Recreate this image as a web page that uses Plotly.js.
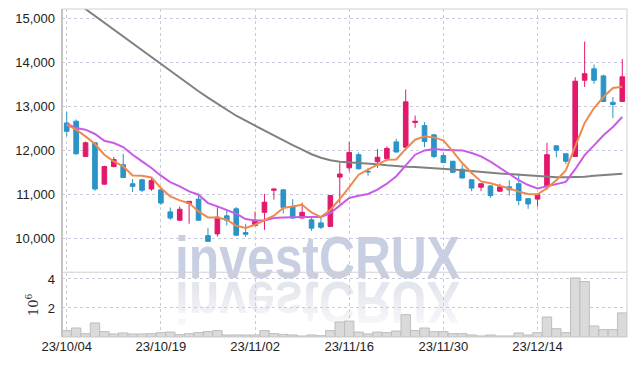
<!DOCTYPE html>
<html><head><meta charset="utf-8">
<script src="https://cdn.plot.ly/plotly-3.0.1.min.js"></script>
<style>
html,body{margin:0;padding:0;background:#fff;}
#wrap{position:relative;width:635px;height:366px;overflow:hidden;}
#chart{position:absolute;left:0;top:0;width:635px;height:366px;z-index:1;}
.wm{position:absolute;left:175px;font-family:"Liberation Sans",Arial,sans-serif;font-weight:bold;font-size:60px;line-height:60px;white-space:nowrap;z-index:0;}
#wm1{top:228px;color:#c9cfe3;transform-origin:0 0;transform:scaleX(0.83);}
#wm2{top:272px;color:#e4e6ee;transform-origin:0 30px;transform:scaleX(0.83) scaleY(-1);
  -webkit-mask-image:linear-gradient(to top, rgba(0,0,0,1) 25%, rgba(0,0,0,0.15) 100%);
  mask-image:linear-gradient(to top, rgba(0,0,0,1) 25%, rgba(0,0,0,0.15) 100%);}
</style></head>
<body><div id="wrap"><div class="wm" id="wm1">investCRUX</div><div class="wm" id="wm2">investCRUX</div><div id="chart"></div></div>
<script>
const dates = ["23/10/04","23/10/05","23/10/06","23/10/10","23/10/11","23/10/12","23/10/13","23/10/16","23/10/17","23/10/18",
"23/10/19","23/10/20","23/10/23","23/10/24","23/10/25","23/10/26","23/10/27","23/10/30","23/10/31","23/11/01",
"23/11/02","23/11/03","23/11/06","23/11/07","23/11/08","23/11/09","23/11/10","23/11/13","23/11/14","23/11/15",
"23/11/16","23/11/17","23/11/20","23/11/21","23/11/22","23/11/23","23/11/24","23/11/27","23/11/28","23/11/29",
"23/11/30","23/12/01","23/12/04","23/12/05","23/12/06","23/12/07","23/12/08","23/12/11","23/12/12","23/12/13",
"23/12/14","23/12/15","23/12/18","23/12/19","23/12/20","23/12/21","23/12/22","23/12/26","23/12/27","23/12/28"];
const tickDates = ["23/10/04","23/10/19","23/11/02","23/11/16","23/11/30","23/12/14"];
const openP  = [12630,12670,11870,12180,11240,11640,11680,11250,11340,11130,11110,10610,10420,10800,10900,10070,10110,10520,10680,10140,10300,10600,11100,11110,10730,10470,10430,10360,10280,11400,11610,11910,11530,11750,11820,12200,12080,12640,12570,12360,11890,11760,11580,11340,11170,11200,11080,11180,11250,10910,10900,11180,12110,11930,11870,13600,13860,13700,13100,13120];
const highP  = [12880,12710,12210,12190,11660,11860,11930,11360,11360,11390,11120,10710,10730,10850,11020,10240,10720,10660,10720,10340,10620,11020,11140,11130,10900,10820,10510,10490,10990,11720,12200,11960,11610,12040,12100,12270,13390,12800,12650,12380,11960,11770,11680,11350,11260,11210,11250,11330,11480,10920,11010,12180,12120,11940,13670,14480,13960,13730,13220,14080];
const lowP   = [12330,11910,11860,11090,11230,11620,11380,11060,11060,11090,10770,10430,10410,10340,10400,9930,10050,10300,10060,10040,10280,10200,10890,10580,10450,10460,10180,10220,10270,10800,11530,11570,11430,11610,11760,11960,12060,12520,12080,11830,11720,11490,11370,11080,11080,10930,11070,10980,10760,10680,10730,11110,11850,11700,11860,13450,13520,13110,12740,13110];
const closeP = [12440,11930,12180,11130,11640,11800,11390,11190,11100,11320,10810,10470,10670,10850,10420,9940,10490,10420,10080,10100,10420,10830,11130,10710,10470,10600,10240,10260,10980,11470,11960,11590,11520,11850,12050,11970,13110,12670,12210,11870,11730,11510,11380,11150,11250,10980,11180,11110,10870,10790,11000,11910,12010,11760,13580,13750,13600,13120,13050,13680];
const ma5  = [12590,12477,12325,12152,11909,11757,11643,11439,11432,11393,11152,10962,10870,10810,10620,10484,10484,10432,10295,10243,10318,10416,10523,10698,10734,10773,10598,10493,10659,10902,11175,11455,11568,11682,11795,11800,12040,12250,12325,12303,12235,11985,11720,11493,11303,11260,11205,11140,11070,11016,11008,11150,11330,11550,12100,12630,12970,13220,13425,13455];
const ma20 = [12610,12516,12477,12380,12227,12175,12084,11909,11757,11606,11432,11288,11189,11075,11000,10810,10734,10659,10568,10448,10416,10416,10470,10480,10493,10493,10493,10493,10584,10750,10925,10977,11016,11114,11250,11420,11659,11909,12007,12039,12023,12023,12007,11947,11870,11750,11600,11470,11330,11220,11140,11190,11240,11290,11580,11900,12120,12350,12540,12766];
const ma60 = [15530,15373,15216,15059,14902,14748,14589,14432,14275,14120,13964,13809,13652,13500,13352,13205,13068,12920,12795,12682,12568,12455,12341,12227,12125,12023,11920,11841,11784,11750,11739,11727,11716,11693,11670,11648,11636,11630,11620,11610,11591,11573,11557,11534,11516,11500,11482,11470,11455,11432,11414,11402,11398,11395,11398,11409,11432,11443,11455,11477];
const volume = [0.44,0.62,0.23,0.97,0.37,0.21,0.28,0.21,0.21,0.23,0.30,0.34,0.16,0.23,0.30,0.37,0.44,0.14,0.14,0.14,0.14,0.44,0.23,0.18,0.14,0.07,0.14,0.09,0.44,1.03,1.10,0.34,0.21,0.34,0.30,0.41,1.54,0.44,0.62,0.37,0.37,0.23,0.23,0.14,0.07,0.14,0.07,0.07,0.28,0.14,0.30,1.38,0.57,0.30,4.07,3.82,0.76,0.51,0.51,1.66];
const priceTicks = [10000,11000,12000,13000,14000,15000];
const volTicks = [2,4];

const gridC = '#c9cbdc';
const traces = [
  {type:'bar', x:dates, y:volume, xaxis:'x', yaxis:'y2', marker:{color:'#dadada', line:{color:'#bdbdbd', width:1}}, hoverinfo:'skip'},
  {type:'candlestick', x:dates, open:openP, high:highP, low:lowP, close:closeP, xaxis:'x', yaxis:'y',
   increasing:{line:{color:'#e2196b', width:1}, fillcolor:'#e2196b'},
   decreasing:{line:{color:'#2b94c6', width:1}, fillcolor:'#2b94c6'},
   whiskerwidth:0, hoverinfo:'skip'},
  {type:'scatter', mode:'lines', x:dates, y:ma60, yaxis:'y', line:{color:'#808080', width:2}, hoverinfo:'skip'},
  {type:'scatter', mode:'lines', x:dates, y:ma20, yaxis:'y', line:{color:'#c95ce6', width:2}, hoverinfo:'skip'},
  {type:'scatter', mode:'lines', x:dates, y:ma5, yaxis:'y', line:{color:'#ee8a50', width:2}, hoverinfo:'skip'}
];
const layout = {
  width:635, height:366,
  margin:{l:62, r:8, t:9, b:29},
  paper_bgcolor:'rgba(0,0,0,0)', plot_bgcolor:'rgba(0,0,0,0)',
  showlegend:false, bargap:0, boxgap:0.3,
  font:{family:'"Liberation Sans",Arial,sans-serif', size:13, color:'#222'},
  xaxis:{type:'category', range:[-0.5,59.5], tickvals:tickDates, ticktext:tickDates, anchor:'y2',
    showgrid:true, gridcolor:gridC, griddash:'dot', gridwidth:1, zeroline:false, showline:false, ticks:'',
    rangeslider:{visible:false}},
  yaxis:{domain:[0.199,1], range:[9250,15220], tickvals:priceTicks, tickformat:',d',
    showgrid:true, gridcolor:gridC, griddash:'dot', zeroline:false, showline:false, ticks:'', ticklabelstandoff:6},
  yaxis2:{domain:[0,0.196], range:[0,4.43], tickvals:volTicks,
    showgrid:true, gridcolor:gridC, griddash:'dot', zeroline:false, showline:false, ticks:'', ticklabelstandoff:6,
    title:{text:'10<sup>6</sup>', font:{family:'"DejaVu Serif",serif', size:13, color:'#333'}, standoff:6}},
  shapes:[
    {type:'rect', xref:'paper', yref:'paper', x0:0, x1:1, y0:0, y1:1, line:{color:'#d0d0d0', width:1}},
    {type:'line', xref:'paper', yref:'paper', x0:0, x1:0, y0:0, y1:1, line:{color:'#c4c4c4', width:2}},
    {type:'line', xref:'paper', yref:'paper', x0:0, x1:1, y0:0.1975, y1:0.1975, line:{color:'#d0d0d0', width:1}}
  ]
};
Plotly.newPlot('chart', traces, layout, {displayModeBar:false, staticPlot:true});
</script>
</body></html>
